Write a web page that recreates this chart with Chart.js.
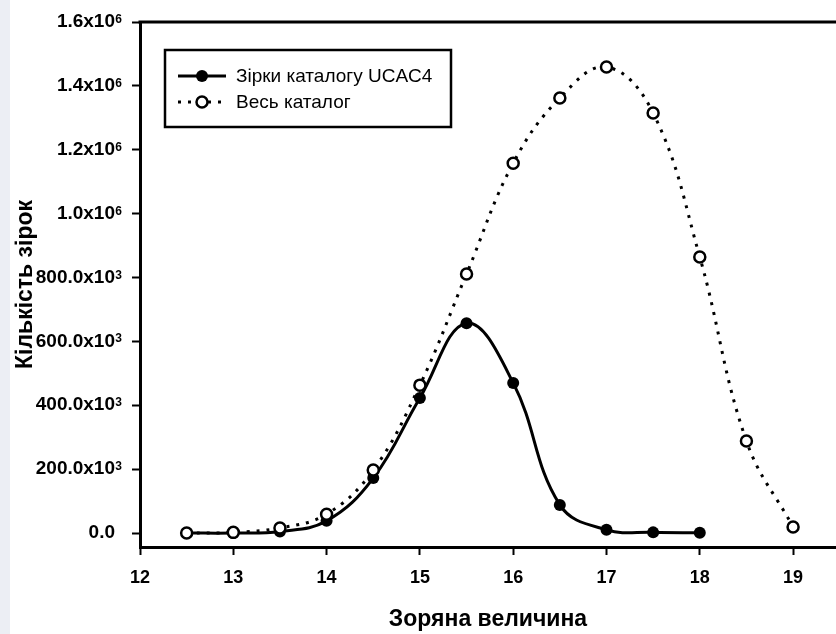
<!DOCTYPE html>
<html>
<head>
<meta charset="utf-8">
<script src="https://cdn.jsdelivr.net/npm/chart.js@4.4.1/dist/chart.umd.min.js"></script>
<style>
  html, body { margin: 0; padding: 0; }
  body { background: linear-gradient(to right, #eceef4 0, #eceef4 10px, #fff 10px); }
  #wrap { width: 836px; height: 634px; }
</style>
</head>
<body>
<div id="wrap"><canvas id="myChart" width="836" height="634"></canvas></div>
<script>
// зоряна величина
const magUcac = [12.5, 13, 13.5, 14, 14.5, 15, 15.5, 16, 16.5, 17, 17.5, 18];
const countUcac = [0, 0, 5000, 38000, 172000, 423000, 657000, 470000, 88000, 10000, 2000, 500];

const magAll = [12.5, 13, 13.5, 14, 14.5, 15, 15.5, 16, 16.5, 17, 17.5, 18, 18.5, 19];
const countAll = [0, 2000, 16000, 59000, 197000, 463000, 811000, 1158000, 1362000, 1459000, 1315000, 864000, 288000, 19000];

const xTicks = [12, 13, 14, 15, 16, 17, 18, 19];
const yTicks = [0, 200000, 400000, 600000, 800000, 1000000, 1200000, 1400000, 1600000];

const seriesNames = ["Зірки каталогу UCAC4", "Весь каталог"];

const FONT = "'Liberation Sans', Arial, sans-serif";

function toPoints(xs, ys) {
    return xs.map((x, i) => ({ x: x, y: ys[i] }));
}

// основна частина підпису, степінь малюється окремо
function fmtTick(v) {
    if (v === 0) return "0.0";
    if (v >= 1000000) return (v / 1000000).toFixed(1) + "x10";
    return (v / 1000).toFixed(1) + "x10";
}

function tickPower(v) {
    if (v === 0) return "";
    return v >= 1000000 ? "6" : "3";
}

// верхня лінія рамки
const topLine = {
    id: "topLine",
    afterDraw(chart) {
        const { ctx, chartArea } = chart;
        ctx.save();
        ctx.strokeStyle = "#000";
        ctx.lineWidth = 3;
        ctx.beginPath();
        ctx.moveTo(chartArea.left - 1.5, chartArea.top);
        ctx.lineTo(chart.width, chartArea.top);
        ctx.stroke();
        ctx.restore();
    }
};

// степені в підписах осі Y
const superscripts = {
    id: "superscripts",
    afterDraw(chart) {
        const { ctx } = chart;
        const scale = chart.scales.y;
        ctx.save();
        ctx.fillStyle = "#000";
        ctx.font = "bold 12px " + FONT;
        ctx.textAlign = "right";
        ctx.textBaseline = "alphabetic";
        scale.ticks.forEach((t) => {
            const p = tickPower(t.value);
            if (!p) return;
            const y = scale.getPixelForValue(t.value);
            ctx.fillText(p, scale.right - 18, y + 1);
        });
        ctx.restore();
    }
};

// легенда в рамці
const boxLegend = {
    id: "boxLegend",
    afterDraw(chart) {
        const { ctx, chartArea } = chart;
        const x0 = chartArea.left + 25;
        const y0 = chartArea.top + 28;
        ctx.save();
        ctx.fillStyle = "#fff";
        ctx.fillRect(x0, y0, 286, 77);
        ctx.strokeStyle = "#000";
        ctx.lineWidth = 2.5;
        ctx.strokeRect(x0, y0, 286, 77);

        chart.data.datasets.forEach((ds, i) => {
            const y = y0 + 26 + i * 26;
            ctx.strokeStyle = "#000";
            ctx.lineWidth = ds.borderWidth;
            ctx.setLineDash(ds.borderDash || []);
            ctx.beginPath();
            ctx.moveTo(x0 + 13, y);
            ctx.lineTo(x0 + 61, y);
            ctx.stroke();
            ctx.setLineDash([]);
            ctx.beginPath();
            ctx.arc(x0 + 37, y, ds.pointRadius, 0, Math.PI * 2);
            ctx.fillStyle = ds.pointBackgroundColor;
            ctx.fill();
            if (ds.pointBorderWidth > 0) {
                ctx.lineWidth = ds.pointBorderWidth;
                ctx.stroke();
            }
            ctx.fillStyle = "#000";
            ctx.font = "19px " + FONT;
            ctx.textBaseline = "middle";
            ctx.fillText(ds.label, x0 + 71, y + 1);
        });
        ctx.restore();
    }
};

const ctx = document.getElementById("myChart");

new Chart(ctx, {
    type: "line",
    data: {
        datasets: [
            {
                label: seriesNames[0],
                data: toPoints(magUcac, countUcac),
                borderColor: "#000",
                borderWidth: 3,
                tension: 0.4,
                pointRadius: 6,
                pointBackgroundColor: "#000",
                pointBorderColor: "#000",
                pointBorderWidth: 0,
                order: 1
            },
            {
                label: seriesNames[1],
                data: toPoints(magAll, countAll),
                borderColor: "#000",
                borderWidth: 3,
                borderDash: [3, 7],
                tension: 0.4,
                pointRadius: 5.5,
                pointBackgroundColor: "#fff",
                pointBorderColor: "#000",
                pointBorderWidth: 2.5,
                order: 0
            }
        ]
    },
    options: {
        responsive: false,
        animation: false,
        layout: { autoPadding: false, padding: { left: 12, top: 22, right: 0, bottom: 0 } },
        plugins: {
            legend: { display: false },
            tooltip: { enabled: false }
        },
        scales: {
            x: {
                type: "linear",
                min: 12,
                max: 19.46,
                afterFit: (scale) => {
                    scale.height = 87;
                    scale.paddingLeft = 0;
                    scale.paddingRight = 0;
                },
                afterBuildTicks: (scale) => { scale.ticks = xTicks.map((v) => ({ value: v })); },
                border: { color: "#000", width: 3 },
                grid: { drawOnChartArea: false, drawTicks: true, tickLength: 8, tickWidth: 2, tickColor: "#000" },
                ticks: {
                    color: "#000",
                    padding: 12,
                    maxRotation: 0,
                    font: { family: FONT, size: 18, weight: "bold" }
                },
                title: {
                    display: true,
                    text: "Зоряна величина",
                    color: "#000",
                    padding: { top: 0, bottom: 1 },
                    font: { family: FONT, size: 23, weight: "bold" }
                }
            },
            y: {
                min: -43800,
                max: 1600000,
                afterFit: (scale) => {
                    scale.width = 128;
                    scale.paddingTop = 0;
                    scale.paddingBottom = 0;
                },
                afterBuildTicks: (scale) => { scale.ticks = yTicks.map((v) => ({ value: v })); },
                border: { color: "#000", width: 3 },
                grid: { drawOnChartArea: false, drawTicks: true, tickLength: 8, tickWidth: 2, tickColor: "#000" },
                ticks: {
                    color: "#000",
                    padding: 17,
                    callback: (v) => fmtTick(v),
                    font: { family: FONT, size: 19, weight: "bold" }
                },
                title: {
                    display: true,
                    text: "Кількість зірок",
                    color: "#000",
                    padding: { top: 0, bottom: 0 },
                    font: { family: FONT, size: 23, weight: "bold" }
                }
            }
        }
    },
    plugins: [topLine, superscripts, boxLegend]
});
</script>
</body>
</html>
